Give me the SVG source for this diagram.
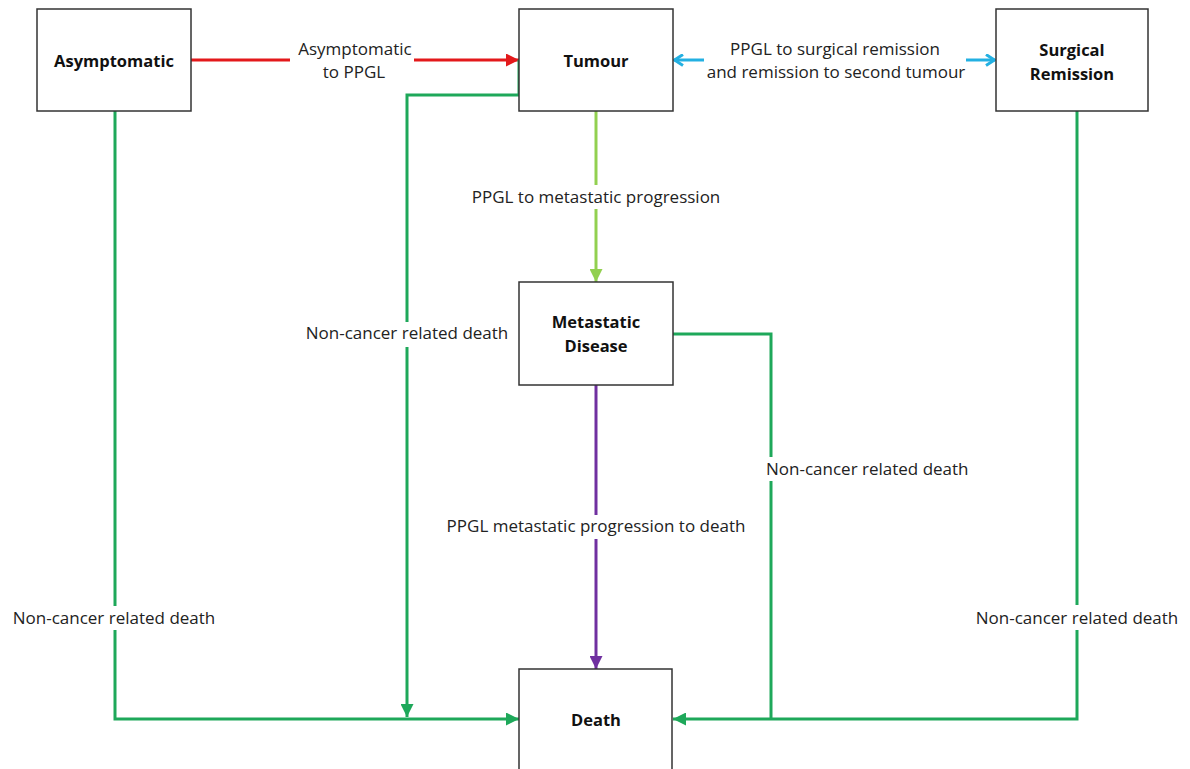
<svg xmlns="http://www.w3.org/2000/svg" width="1190" height="769" viewBox="0 0 1190 769">
<style>
.box{fill:#fff;stroke:#333;stroke-width:1.5}
.nt{font-family:"Open Sans","Liberation Sans",sans-serif;font-weight:bold;font-size:16.5px;fill:#111;text-anchor:middle}
.lb{font-family:"Open Sans","Liberation Sans",sans-serif;font-size:17px;fill:#222;text-anchor:middle}
.c{fill:none;stroke-width:3}
.red{stroke:#e3191b}
.grn{stroke:#1ea85a}
.lg{stroke:#92d050}
.pur{stroke:#7030a0}
.blu{stroke:#23b0e2}
</style>
<defs>
<marker id="aRed" viewBox="0 0 13 13" refX="13" refY="6.5" markerWidth="13" markerHeight="13" markerUnits="userSpaceOnUse" orient="auto"><path d="M0,0 L13,6.5 L0,13 z" fill="#e3191b"/></marker>
<marker id="aGrn" viewBox="0 0 13 13" refX="13" refY="6.5" markerWidth="13" markerHeight="13" markerUnits="userSpaceOnUse" orient="auto"><path d="M0,0 L13,6.5 L0,13 z" fill="#1ea85a"/></marker>
<marker id="aLg" viewBox="0 0 13 13" refX="13" refY="6.5" markerWidth="13" markerHeight="13" markerUnits="userSpaceOnUse" orient="auto"><path d="M0,0 L13,6.5 L0,13 z" fill="#92d050"/></marker>
<marker id="aPur" viewBox="0 0 13 13" refX="13" refY="6.5" markerWidth="13" markerHeight="13" markerUnits="userSpaceOnUse" orient="auto"><path d="M0,0 L13,6.5 L0,13 z" fill="#7030a0"/></marker>
<marker id="aBlu" viewBox="0 0 13 13" refX="12" refY="6.5" markerWidth="13" markerHeight="13" markerUnits="userSpaceOnUse" orient="auto"><path d="M3,1 L11.5,6.5 L3,12" fill="none" stroke="#23b0e2" stroke-width="3"/></marker>
</defs>
<rect width="1190" height="769" fill="#fff"/>
<g id="connectors">
<path class="c red" d="M191,60 H290"/>
<path class="c red" d="M414,60 H519" marker-end="url(#aRed)"/>
<path class="c blu" d="M704,60 H674" marker-end="url(#aBlu)"/>
<path class="c blu" d="M966,60 H995" marker-end="url(#aBlu)"/>
<path class="c grn" d="M519,60 V95 H407 V322"/>
<path class="c grn" d="M407,347 V717" marker-end="url(#aGrn)"/>
<path class="c grn" d="M115,111 V606"/>
<path class="c grn" d="M115,630 V719 H519" marker-end="url(#aGrn)"/>
<path class="c lg" d="M596,111 V185"/>
<path class="c lg" d="M596,209 V282" marker-end="url(#aLg)"/>
<path class="c pur" d="M596,385 V515"/>
<path class="c pur" d="M596,539 V669" marker-end="url(#aPur)"/>
<path class="c grn" d="M673,334 H771 V457"/>
<path class="c grn" d="M771,481 V719"/>
<path class="c grn" d="M1077,111 V605"/>
<path class="c grn" d="M1077,630 V719 H673" marker-end="url(#aGrn)"/>
<text class="lb" x="355" y="55">Asymptomatic</text>
<text class="lb" x="354" y="78">to PPGL</text>
<text class="lb" x="835" y="55">PPGL to surgical remission</text>
<text class="lb" x="836" y="78">and remission to second tumour</text>
<text class="lb" x="596" y="203">PPGL to metastatic progression</text>
<text class="lb" x="407" y="339">Non-cancer related death</text>
<text class="lb" x="766" y="475" text-anchor="start" style="text-anchor:start">Non-cancer related death</text>
<text class="lb" x="596" y="532">PPGL metastatic progression to death</text>
<text class="lb" x="114" y="624">Non-cancer related death</text>
<text class="lb" x="1077" y="624">Non-cancer related death</text>
</g>
<g id="asymptomatic">
<rect class="box" x="37" y="9" width="154" height="102"/>
<text class="nt" x="114" y="67">Asymptomatic</text>
</g>
<g id="tumour">
<rect class="box" x="519" y="9" width="154" height="102"/>
<text class="nt" x="596" y="67">Tumour</text>
</g>
<g id="surgical-remission">
<rect class="box" x="996" y="9" width="152" height="102"/>
<text class="nt" x="1072" y="56">Surgical</text>
<text class="nt" x="1072" y="80">Remission</text>
</g>
<g id="metastatic-disease">
<rect class="box" x="519" y="282" width="154" height="103"/>
<text class="nt" x="596" y="328">Metastatic</text>
<text class="nt" x="596" y="352">Disease</text>
</g>
<g id="death">
<rect class="box" x="519" y="669" width="153" height="102"/>
<text class="nt" x="596" y="726">Death</text>
</g>
</svg>
